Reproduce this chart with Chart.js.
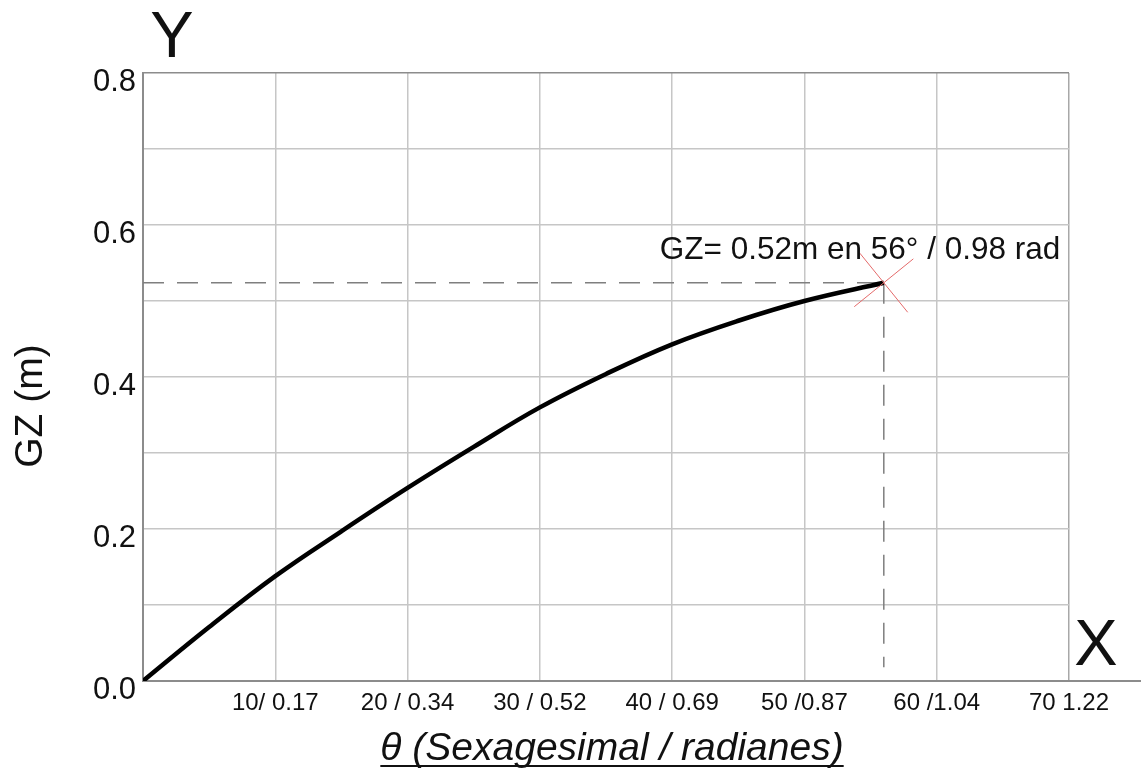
<!DOCTYPE html>
<html>
<head>
<meta charset="utf-8">
<script src="https://cdn.jsdelivr.net/npm/chart.js@4/dist/chart.umd.min.js"></script>
<style>
  html, body { margin: 0; padding: 0; background: #fff; }
  #wrap { width: 1141px; height: 769px; position: relative; }
</style>
</head>
<body>
<div id="wrap"><canvas id="gz"></canvas></div>
<script>
(function () {
  "use strict";

  // GZ righting-arm curve (degrees -> metres).
  const thetaDeg = [0, 5, 10, 15, 20, 25, 30, 35, 40, 45, 50, 56];
  const gzMetres = [0, 0.071, 0.138, 0.197, 0.254, 0.308, 0.360, 0.404, 0.443, 0.474, 0.500, 0.524];

  // Maximum GZ point and the end of the dashed drop line.
  const peakTheta = 56;
  const peakGz = 0.524;
  const dropEndGz = 0.018;

  // Tick labels, one per 10 degree / 0.1 m step.
  const xTickLabels = ["", "10/ 0.17", "20 / 0.34", "30 / 0.52", "40 / 0.69", "50 /0.87", "60 /1.04", "70 1.22"];
  const yTickLabels = ["0.0", "", "0.2", "", "0.4", "", "0.6", "", "0.8"];

  const FONT = "'Liberation Sans', Arial, Helvetica, sans-serif";
  const COLORS = {
    curve: "#000000",
    grid: "#c6c6c6",
    frame: "#8c8c8c",
    guide: "#7f7f7f",
    marker: "#e46a6a",
    text: "#111111",
  };

  // Free text: big axis letters, the peak note and the axis titles.
  const textPlugin = {
    id: "gzText",
    afterDraw(chart) {
      const ctx = chart.ctx;
      const area = chart.chartArea;
      const xs = chart.scales.x;
      const ys = chart.scales.y;
      ctx.save();
      ctx.fillStyle = COLORS.text;

      // bottom axis runs past the plot frame
      ctx.strokeStyle = COLORS.frame;
      ctx.lineWidth = 2;
      ctx.beginPath();
      ctx.moveTo(area.right, area.bottom);
      ctx.lineTo(chart.width, area.bottom);
      ctx.stroke();

      ctx.font = "65px " + FONT;
      ctx.textAlign = "center";
      ctx.textBaseline = "alphabetic";
      ctx.fillText("Y", 172, 57);
      ctx.fillText("X", 1096, 665);

      ctx.font = "31.5px " + FONT;
      ctx.textAlign = "left";
      const px = xs.getPixelForValue(peakTheta);
      const py = ys.getPixelForValue(peakGz);
      ctx.fillText("GZ= 0.52m en 56° / 0.98 rad", px - 224, py - 24);

      // y title, rotated
      ctx.save();
      ctx.translate(42, 406);
      ctx.rotate(-Math.PI / 2);
      ctx.font = "39px " + FONT;
      ctx.textAlign = "center";
      ctx.fillText("GZ (m)", 0, 0);
      ctx.restore();

      // x title, italic and underlined
      ctx.font = "italic 39px " + FONT;
      ctx.textAlign = "center";
      const title = "θ (Sexagesimal / radianes)";
      const cx = 612;
      const base = 760;
      ctx.fillText(title, cx, base);
      const w = ctx.measureText(title).width;
      ctx.fillRect(cx - w / 2, base + 5, w, 2);
      ctx.restore();
    },
  };

  const curve = thetaDeg.map((t, i) => ({ x: t, y: gzMetres[i] }));

  new Chart(document.getElementById("gz"), {
    type: "line",
    data: {
      datasets: [
        {
          data: [{ x: peakTheta, y: peakGz }],
          showLine: false,
          pointStyle: "crossRot",
          pointRadius: 38,
          pointRotation: 6,
          pointBorderColor: COLORS.marker,
          pointBackgroundColor: COLORS.marker,
          pointBorderWidth: 1,
          order: 0,
          clip: false,
        },
        {
          data: curve,
          borderColor: COLORS.curve,
          borderWidth: 4.5,
          tension: 0.4,
          pointRadius: 0,
          fill: false,
          order: 1,
        },
        {
          data: [{ x: 0, y: peakGz }, { x: peakTheta, y: peakGz }],
          borderColor: COLORS.guide,
          borderWidth: 1.5,
          borderDash: [21, 13],
          pointRadius: 0,
          order: 2,
        },
        {
          data: [{ x: peakTheta, y: peakGz }, { x: peakTheta, y: dropEndGz }],
          borderColor: COLORS.guide,
          borderWidth: 1.5,
          borderDash: [21, 13],
          pointRadius: 0,
          order: 2,
        },
      ],
    },
    options: {
      responsive: true,
      maintainAspectRatio: false,
      animation: false,
      layout: { padding: { left: 0, right: 72, top: 73, bottom: 0 } },
      plugins: { legend: { display: false }, tooltip: { enabled: false } },
      scales: {
        x: {
          type: "linear",
          min: 0,
          max: 70,
          afterFit(scale) { scale.height = 88; },
          ticks: {
            stepSize: 10,
            autoSkip: false,
            maxRotation: 0,
            padding: 8,
            color: COLORS.text,
            font: { family: FONT, size: 24 },
            callback: (v, i) => xTickLabels[i] || "",
          },
          grid: {
            drawTicks: false,
            color: (c) => (c.index === xTickLabels.length - 1 ? "#a8a8a8" : COLORS.grid),
            lineWidth: 1.5,
          },
          border: { color: COLORS.frame, width: 2 },
        },
        y: {
          min: 0,
          max: 0.8,
          afterFit(scale) { scale.width = 143; },
          ticks: {
            stepSize: 0.1,
            padding: 7,
            labelOffset: 9,
            color: COLORS.text,
            font: { family: FONT, size: 31 },
            callback: (v, i) => yTickLabels[i] || "",
          },
          grid: {
            drawTicks: false,
            color: (c) => (c.index === yTickLabels.length - 1 ? COLORS.frame : COLORS.grid),
            lineWidth: 1.5,
          },
          border: { color: COLORS.frame, width: 2 },
        },
      },
    },
    plugins: [textPlugin],
  });
})();
</script>
</body>
</html>
